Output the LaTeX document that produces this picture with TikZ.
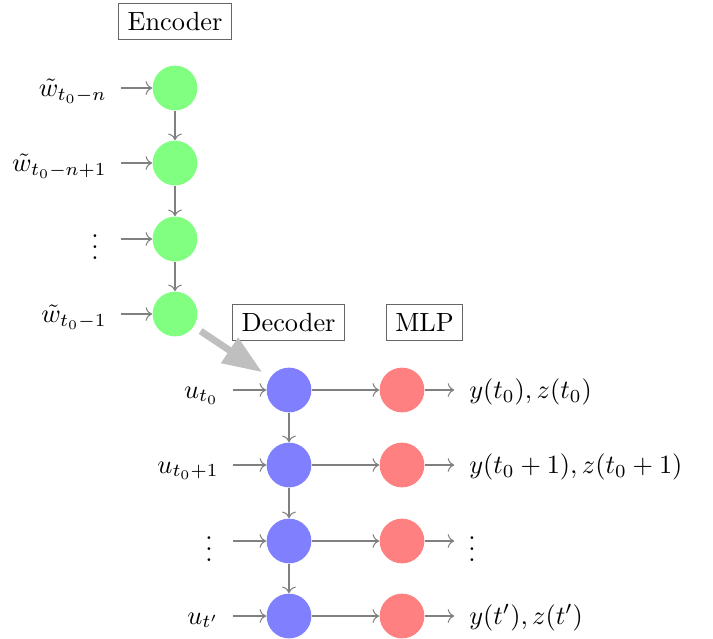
\documentclass[tikz,border=0pt]{standalone}
\usetikzlibrary{arrows.meta}
\begin{document}
\begin{tikzpicture}[x=0.38pt,y=-0.38pt,
  enc/.style={circle,fill=green!50,minimum size=17pt,inner sep=0pt},
  dec/.style={circle,fill=blue!50,minimum size=17pt,inner sep=0pt},
  mlp/.style={circle,fill=red!50,minimum size=17pt,inner sep=0pt},
  lab/.style={anchor=base east},
  outlab/.style={anchor=base west},
  title/.style={draw=black!60,line width=0.4pt},
  conn/.style={->,draw=gray,line width=0.4pt},
  inarr/.style={conn,shorten <=2pt},
  outarr/.style={conn,shorten >=2.2pt},
  big/.style={-{Triangle[length=15pt,width=11pt]},draw=black!25,line width=2.6pt,shorten <=3pt,shorten >=3.5pt}]
\useasboundingbox (0,0) rectangle (713,638);
% titles
\node[title] (tenc) at (175,21.5) {Encoder};
\node[title] (tdec) at (288.5,322.5) {Decoder};
\node[title] (tmlp) at (424.5,322.5) {MLP};
% encoder
\node[enc] (e1) at (175,88) {};
\node[enc] (e2) at (175,163) {};
\node[enc] (e3) at (175,239) {};
\node[enc] (e4) at (175,314) {};
\node[lab] (w1) at (116,96.5) {$\tilde w_{t_0-n}$};
\node[lab] (w2) at (116,171.5) {$\tilde w_{t_0-n+1}$};
\node[anchor=base] (w3) at (95,259) {$\vdots$};
\node[lab] (w4) at (116,322.5) {$\tilde w_{t_0-1}$};
\draw[inarr] (w1.east |- e1) -- (e1);
\draw[inarr] (w2.east |- e2) -- (e2);
\draw[inarr] (w4.east |- e3) -- (e3);
\draw[inarr] (w4.east |- e4) -- (e4);
\draw[conn] (e1) -- (e2);
\draw[conn] (e2) -- (e3);
\draw[conn] (e3) -- (e4);
% decoder
\node[dec] (d1) at (289,390) {};
\node[dec] (d2) at (289,465) {};
\node[dec] (d3) at (289,541) {};
\node[dec] (d4) at (289,616) {};
\node[lab] (u1) at (228,398) {$u_{t_0}$};
\node[lab] (u2) at (228,473) {$u_{t_0+1}$};
\node[anchor=base] (u3) at (209,561) {$\vdots$};
\node[lab] (u4) at (228,624) {$u_{t'}$};
\draw[inarr] (u1.east |- d1) -- (d1);
\draw[inarr] (u2.east |- d2) -- (d2);
\draw[inarr] (u4.east |- d3) -- (d3);
\draw[inarr] (u4.east |- d4) -- (d4);
\draw[conn] (d1) -- (d2);
\draw[conn] (d2) -- (d3);
\draw[conn] (d3) -- (d4);
% mlp
\node[mlp] (m1) at (402,390) {};
\node[mlp] (m2) at (402,465) {};
\node[mlp] (m3) at (402,541) {};
\node[mlp] (m4) at (402,616) {};
\draw[conn] (d1) -- (m1);
\draw[conn] (d2) -- (m2);
\draw[conn] (d3) -- (m3);
\draw[conn] (d4) -- (m4);
\node[outlab] (o1) at (460,398.5) {$y(t_0),z(t_0)$};
\node[outlab] (o2) at (460,473.5) {$y(t_0+1),z(t_0+1)$};
\node[anchor=base] (o3) at (472,561) {$\vdots$};
\node[outlab] (o4) at (460,624.5) {$y(t'),z(t')$};
\draw[outarr] (m1) -- (o1.west |- m1);
\draw[outarr] (m2) -- (o2.west |- m2);
\draw[outarr] (m3) -- (o4.west |- m3);
\draw[outarr] (m4) -- (o4.west |- m4);
% transfer
\draw[big] (e4) -- (d1);
\end{tikzpicture}
\end{document}
